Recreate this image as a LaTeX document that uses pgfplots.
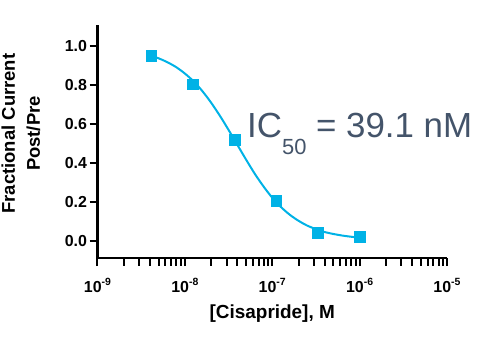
\documentclass[border=0pt]{standalone}
\usepackage{pgfplots}
\pgfplotsset{compat=1.18}
\usepackage{fontspec}
\setmainfont{Liberation Sans}
\definecolor{cy}{RGB}{0,178,230}
\definecolor{txt}{RGB}{68,84,106}
\newcommand{\ex}[1]{\raisebox{6.3bp}{\fontsize{10.5}{10.5}\selectfont\bfseries #1}}
\begin{document}
\begin{tikzpicture}
\path[use as bounding box] (0,0) rectangle (495bp,339bp);
\begin{axis}[
  at={(97.5bp,81bp)}, anchor=south west,
  scale only axis, width=349.5bp, height=233bp,
  xmode=log, xmin=1e-9, xmax=1e-5,
  ymin=-0.0872, ymax=1.108,
  axis x line*=bottom, axis y line*=left,
  axis line style={line width=2.4bp, black},
  tick align=outside,
  x tick style={black, line width=2bp},
  y tick style={black, line width=2bp},
  xtick={1e-9,1e-8,1e-7,1e-6,1e-5},
  xticklabels={10\ex{-9},10\ex{-8},10\ex{-7},10\ex{-6},10\ex{-5}},
  ytick={0,0.2,0.4,0.6,0.8,1.0},
  yticklabels={0.0,0.2,0.4,0.6,0.8,1.0},
  x axis/.append style={major tick length=11bp, minor tick length=7.5bp},
  major tick length=8bp, minor tick length=7.5bp,
  ticklabel style={font=\fontsize{16}{16}\selectfont\bfseries},
  yticklabel style={xshift=1bp},
  xticklabel style={yshift=-9bp},
  xlabel={[Cisapride], M},
  xlabel style={font=\fontsize{19}{19}\selectfont\bfseries, at={(axis description cs:0.5,-0.238)}, anchor=center},
  ylabel={Fractional Current\\Post/Pre},
  ylabel style={font=\fontsize{18.5}{25}\selectfont\bfseries, align=center, at={(axis description cs:-0.219,0.534)}, anchor=center},
  clip=false,
]
\addplot[cy, line width=2bp, smooth, no markers] coordinates {
(4.115e-9,0.949) (5.012e-9,0.937) (6.310e-9,0.917) (7.943e-9,0.892)
(1e-8,0.859) (1.259e-8,0.819) (1.585e-8,0.769) (1.995e-8,0.710)
(2.512e-8,0.643) (3.162e-8,0.570) (3.981e-8,0.494) (5.012e-8,0.418)
(6.310e-8,0.345) (7.943e-8,0.280) (1e-7,0.222) (1.259e-7,0.174)
(1.585e-7,0.135) (1.995e-7,0.104) (2.512e-7,0.079) (3.162e-7,0.061)
(3.981e-7,0.046) (5.012e-7,0.036) (6.310e-7,0.028) (7.943e-7,0.022)
(1e-6,0.017)
};
\addplot[only marks, mark=square*, mark size=5.3bp, cy, mark options={fill=cy, draw=cy}] coordinates {
(4.115e-9,0.950) (1.235e-8,0.804) (3.704e-8,0.519) (1.111e-7,0.207) (3.333e-7,0.043) (1e-6,0.022)
};
\end{axis}
\node[anchor=base west, inner sep=0, text=txt] at (247bp,201.3bp)
  {\fontsize{35}{35}\selectfont IC\raisebox{-16.6bp}{\fontsize{22}{22}\selectfont 50} = 39.1 nM};
\end{tikzpicture}
\end{document}
